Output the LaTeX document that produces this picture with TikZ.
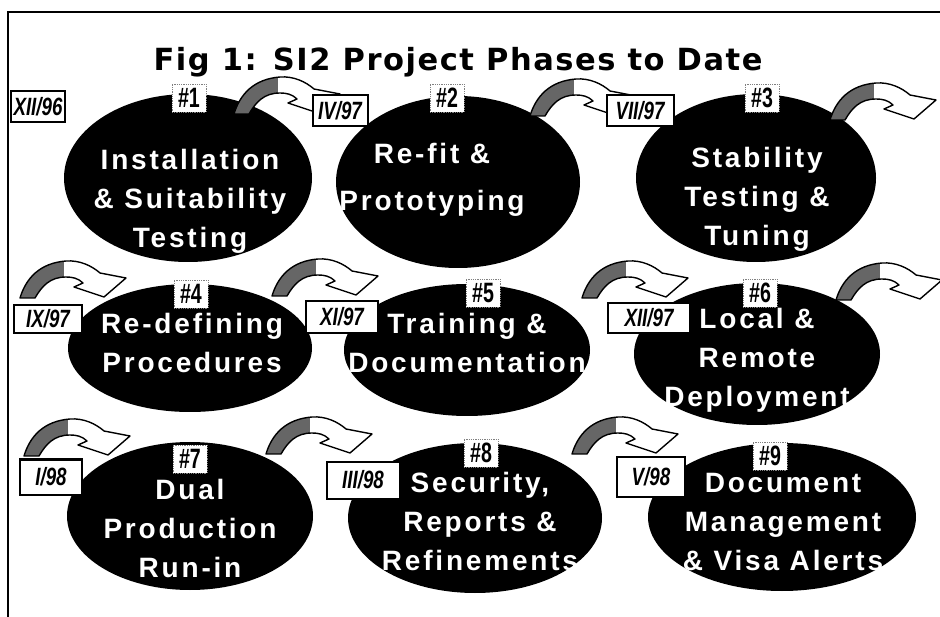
\documentclass[tikz,border=0pt]{standalone}
\usepackage{fontspec}
\setmainfont{Liberation Sans}
\newfontfamily\titlefont[LetterSpace=5]{DejaVu Sans}
\newfontfamily\phasefont[LetterSpace=10]{Liberation Sans}
\newfontfamily\datefont[FakeStretch=0.75]{Liberation Sans}
\newfontfamily\numfont[FakeStretch=0.7]{Liberation Sans}
\usetikzlibrary{shapes.geometric}
\tikzset{
  phase/.style={ellipse, fill=black, inner sep=0pt},
  phasetext/.style={text=white, align=center, inner sep=0pt,
    font=\phasefont\bfseries\fontsize{28}{39}\selectfont},
  datebox/.style={draw=black, line width=2pt, fill=white, inner sep=0pt,
    font=\datefont\bfseries\itshape\fontsize{25}{25}\selectfont},
  numbox/.style={fill=white, draw=black!50, densely dotted, line width=0.8pt,
    inner sep=0pt, minimum width=34pt, minimum height=28pt,
    font=\numfont\bfseries\fontsize{28}{28}\selectfont},
  bentarrow/.pic={
    \path[fill=white] (0,36) .. controls (6,16) and (20,1) .. (46,-1)
      .. controls (60,-2) and (72,4) .. (80,11) -- (106,16) -- (84,35)
      -- (54,25) -- (63,21) .. controls (58,16) and (52,15) .. (46,15)
      .. controls (30,15) and (22,24) .. (15,36) -- cycle;
    \begin{scope}
      \clip (0,36) .. controls (6,16) and (20,1) .. (46,-1)
      .. controls (60,-2) and (72,4) .. (80,11) -- (106,16) -- (84,35)
      -- (54,25) -- (63,21) .. controls (58,16) and (52,15) .. (46,15)
      .. controls (30,15) and (22,24) .. (15,36) -- cycle;
      \fill[black!60] (-5,-5) rectangle (44,40);
    \end{scope}
    \draw[line width=1.4pt, line join=round] (0,36) .. controls (6,16) and (20,1) .. (46,-1)
      .. controls (60,-2) and (72,4) .. (80,11) -- (106,16) -- (84,35)
      -- (54,25) -- (63,21) .. controls (58,16) and (52,15) .. (46,15)
      .. controls (30,15) and (22,24) .. (15,36) -- cycle;
  }
}
\begin{document}
\begin{tikzpicture}[x=1pt, y=-1pt]
\useasboundingbox[fill=white] (0,0) rectangle (940,617);
% frame
\draw[line width=2pt] (940,12) -- (8,12) -- (8,617);
% title
\node[font=\titlefont\bfseries\fontsize{30.5}{30.5}\selectfont] (title) at (458,62) {Fig 1: SI2 Project Phases to Date};

% ellipses
\node[phase, minimum width=248pt, minimum height=168pt] (e1) at (188,178) {};
\node[phase, minimum width=244pt, minimum height=172pt] (e2) at (458,182) {};
\node[phase, minimum width=240pt, minimum height=168pt] (e3) at (756,178) {};
\node[phase, minimum width=244pt, minimum height=128pt] (e4) at (190,348) {};
\node[phase, minimum width=246pt, minimum height=132pt] (e5) at (467,350) {};
\node[phase, minimum width=246pt, minimum height=142pt] (e6) at (757,354) {};
\node[phase, minimum width=246pt, minimum height=148pt] (e7) at (190,516) {};
\node[phase, minimum width=254pt, minimum height=150pt] (e8) at (475,518) {};
\node[phase, minimum width=268pt, minimum height=148pt] (e9) at (782,517) {};

% arrows (origin = top-left of the arrow)
\pic at (234,78) {bentarrow};
\pic at (530,80) {bentarrow};
\pic at (830,84) {bentarrow};
\pic at (20,262) {bentarrow};
\pic at (272,260) {bentarrow};
\pic at (582,262) {bentarrow};
\pic at (836,264) {bentarrow};
\pic at (24,420) {bentarrow};
\pic at (266,418) {bentarrow};
\pic at (572,418) {bentarrow};

% phase texts
\node[phasetext] (t1) at (190,201) {Installation\\\& Suitability\\Testing};
\node[phasetext] (t2) at (432,180) {Re-fit \&\\[8pt]Prototyping};
\node[phasetext] (t3) at (757,199) {Stability\\Testing \&\\Tuning};
\node[phasetext] (t4) at (192,343) {Re-defining\\Procedures};
\node[phasetext] (t5) at (467,343) {Training \&\\Documentation};
\node[phasetext] (t6) at (757,360) {Local \&\\Remote\\Deployment};
\node[phasetext] (t7) at (190,528) {Dual\\Production\\Run-in};
\node[phasetext] (t8) at (480,521) {Security,\\Reports \&\\Refinements};
\node[phasetext] (t9) at (783,522) {Document\\Management\\\& Visa Alerts};

% number boxes
\node[numbox] (n1) at (189,98) {\#1};
\node[numbox] (n2) at (447,98) {\#2};
\node[numbox] (n3) at (762,98) {\#3};
\node[numbox] (n4) at (191,294) {\#4};
\node[numbox] (n5) at (483,293) {\#5};
\node[numbox] (n6) at (760,293) {\#6};
\node[numbox] (n7) at (190,459) {\#7};
\node[numbox] (n8) at (481,453) {\#8};
\node[numbox] (n9) at (770,456) {\#9};

% date boxes
\node[datebox, minimum width=54pt, minimum height=31pt] (d1) at (38,107) {XII/96};
\node[datebox, minimum width=55pt, minimum height=31pt] (d2) at (340,111) {IV/97};
\node[datebox, minimum width=67pt, minimum height=31pt] (d3) at (640,111) {VII/97};
\node[datebox, minimum width=68pt, minimum height=28pt] (d4) at (48,319) {IX/97};
\node[datebox, minimum width=72pt, minimum height=32pt] (d5) at (342,317) {XI/97};
\node[datebox, minimum width=82pt, minimum height=30pt] (d6) at (649,318) {XII/97};
\node[datebox, minimum width=62pt, minimum height=35pt] (d7) at (51,477) {I/98};
\node[datebox, minimum width=73pt, minimum height=37pt] (d8) at (363,480) {III/98};
\node[datebox, minimum width=68pt, minimum height=40pt] (d9) at (651,477) {V/98};
\end{tikzpicture}
\end{document}
